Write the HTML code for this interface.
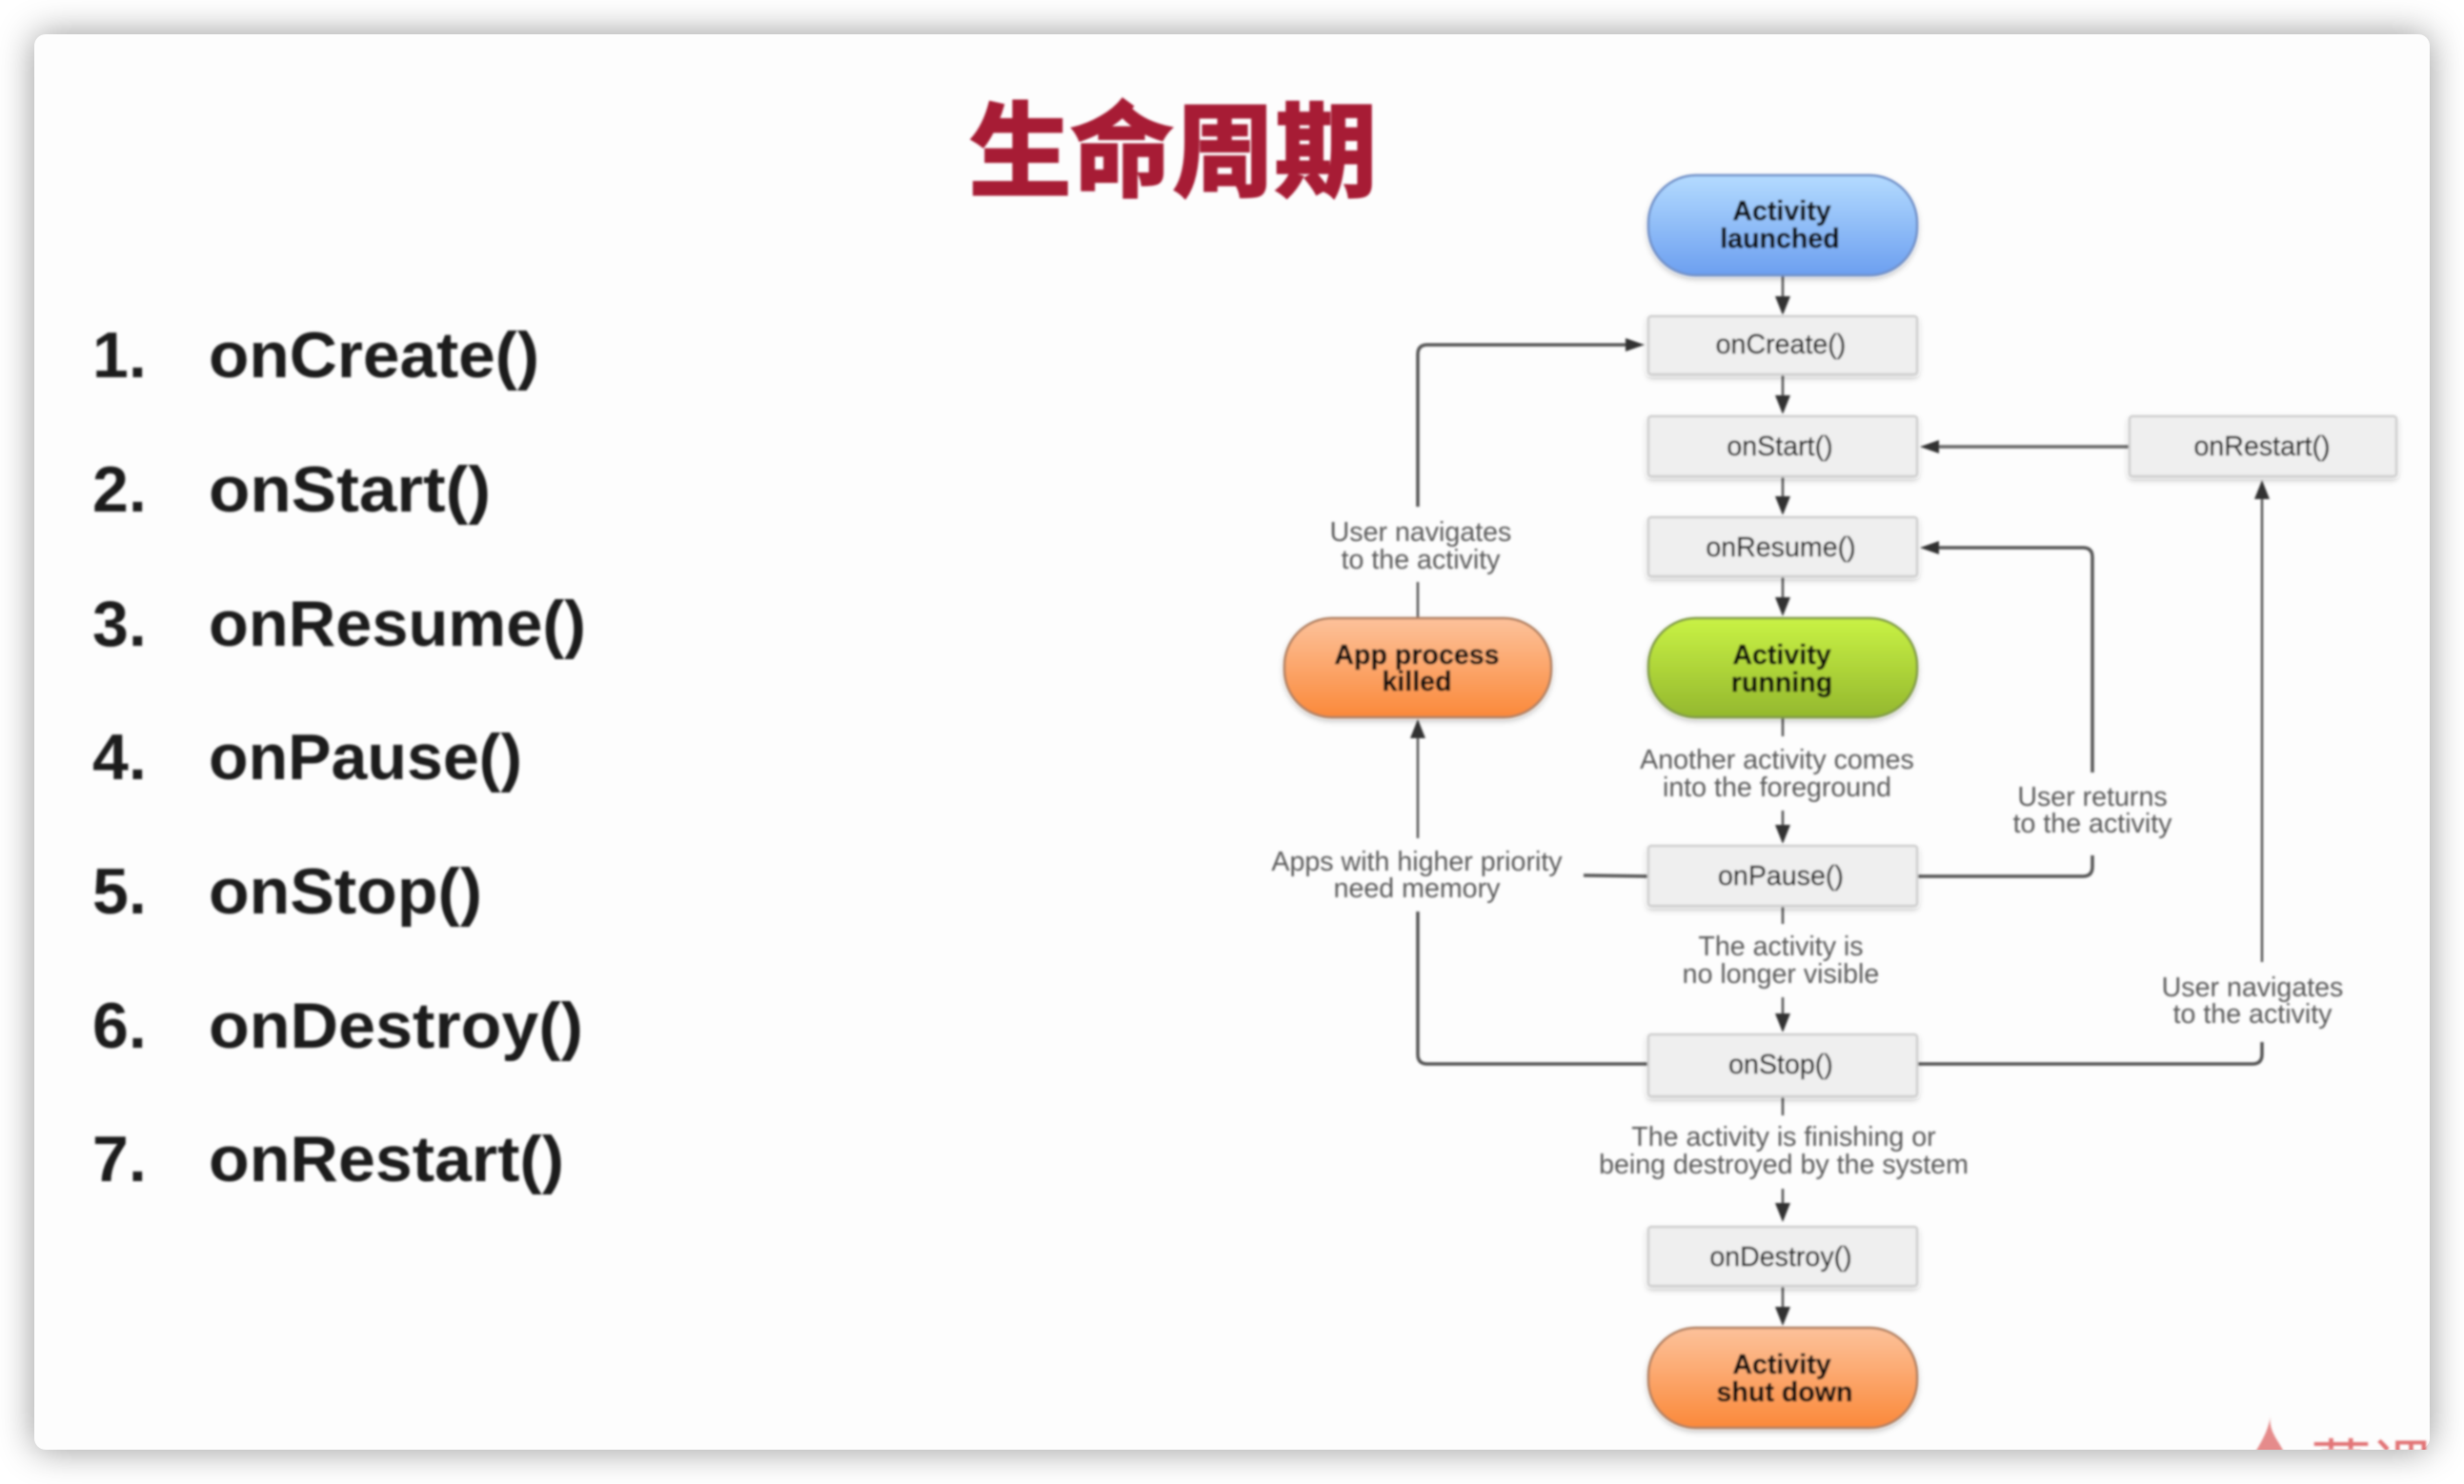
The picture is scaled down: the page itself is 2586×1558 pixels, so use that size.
<!DOCTYPE html>
<html><head><meta charset="utf-8"><style>
html,body{margin:0;padding:0;width:2586px;height:1558px;background:#fff;overflow:hidden}
#card{position:absolute;left:36px;top:36px;width:2514px;height:1486px;background:#fdfdfd;border-radius:12px;box-shadow:0 0 38px rgba(0,0,0,.42)}
svg{position:absolute;left:0;top:0}
.L{font-family:"Liberation Sans",sans-serif;font-weight:700;font-size:68px;fill:#1c1c1c}
.n{font-family:"Liberation Sans",sans-serif;font-size:28.6px;fill:#222;text-anchor:middle;stroke:#222;stroke-width:.4px}
.b{font-family:"Liberation Sans",sans-serif;font-weight:700;font-size:28.6px;fill:#111;text-anchor:middle;stroke:#111;stroke-width:.4px}
.g{font-family:"Liberation Sans",sans-serif;font-size:28.6px;fill:#5a5a5a;text-anchor:middle}
</style></head><body>
<div id="card"></div>
<svg width="2586" height="1558" viewBox="0 0 2586 1558" xmlns="http://www.w3.org/2000/svg">
<defs>
<linearGradient id="bl" x1="0" y1="0" x2="0" y2="1"><stop offset="0" stop-color="#b4dbff"/><stop offset="1" stop-color="#6c9ff0"/></linearGradient>
<linearGradient id="gr" x1="0" y1="0" x2="0" y2="1"><stop offset="0" stop-color="#c9f245"/><stop offset="1" stop-color="#94b82e"/></linearGradient>
<linearGradient id="or" x1="0" y1="0" x2="0" y2="1"><stop offset="0" stop-color="#fdc29b"/><stop offset="1" stop-color="#fb893a"/></linearGradient>
<filter id="s" filterUnits="userSpaceOnUse" x="0" y="0" width="2586" height="1558"><feDropShadow dx="0" dy="3" stdDeviation="3" flood-color="#000" flood-opacity=".22"/></filter>
<filter id="f" filterUnits="userSpaceOnUse" x="0" y="0" width="2586" height="1558"><feGaussianBlur stdDeviation="1"/></filter>
<clipPath id="c"><rect x="36" y="36" width="2514" height="1486"/></clipPath>
</defs>

<!-- watermark -->
<g clip-path="url(#c)" filter="url(#f)">
<path d="M2383 1486 C2380 1505 2395 1515 2399 1530 L2364 1530 C2372 1515 2380 1505 2383 1486Z" fill="#e58b8b"/>
<text x="2425" y="1564" font-family="'Noto Sans CJK SC',sans-serif" font-size="64" fill="#d9474a" opacity=".75">慕课</text>
</g>

<!-- title -->
<text x="1017" y="197" font-family="'Liberation Sans','Noto Sans CJK SC',sans-serif" font-weight="700" font-size="107" fill="#a71c35" stroke="#a71c35" stroke-width="3" textLength="428" filter="url(#f)">生命周期</text>

<!-- list -->
<g filter="url(#f)">
<text class="L" x="97" y="396">1.</text><text class="L" x="219" y="396" textLength="347" lengthAdjust="spacingAndGlyphs">onCreate()</text>
<text class="L" x="97" y="537">2.</text><text class="L" x="219" y="537" textLength="296" lengthAdjust="spacingAndGlyphs">onStart()</text>
<text class="L" x="97" y="678">3.</text><text class="L" x="219" y="678" textLength="396" lengthAdjust="spacingAndGlyphs">onResume()</text>
<text class="L" x="97" y="818">4.</text><text class="L" x="219" y="818" textLength="329" lengthAdjust="spacingAndGlyphs">onPause()</text>
<text class="L" x="97" y="959">5.</text><text class="L" x="219" y="959" textLength="287" lengthAdjust="spacingAndGlyphs">onStop()</text>
<text class="L" x="97" y="1100">6.</text><text class="L" x="219" y="1100" textLength="393" lengthAdjust="spacingAndGlyphs">onDestroy()</text>
<text class="L" x="97" y="1240">7.</text><text class="L" x="219" y="1240" textLength="373" lengthAdjust="spacingAndGlyphs">onRestart()</text>
</g>

<g filter="url(#f)">
<!-- connectors -->
<g fill="none" stroke="#555" stroke-width="2.5">
<path d="M1871 288V322M1871 393V428M1871 500V534M1871 605V640M1871 753V773M1871 851V878M1871 951V970M1871 1047V1076M1871 1151V1171M1871 1248V1275M1871 1350V1385"/>
<path d="M1488 532V372Q1488 362 1498 362H1710" stroke-width="3.5"/>
<path d="M1488 611V649"/>
<path d="M2235 469H2030" stroke-width="3.5" stroke="#666"/>
<path d="M2012 920H2186Q2196 920 2196 910V898" stroke-width="3.5"/>
<path d="M2196 811V585Q2196 575 2186 575H2030" stroke-width="3.5"/>
<path d="M1729 920L1662 919" stroke-width="3.5"/>
<path d="M1488 770V880"/>
<path d="M1488 957V1107Q1488 1117 1498 1117H1730" stroke-width="3.5"/>
<path d="M2012 1117H2364Q2374 1117 2374 1107V1094" stroke-width="3.5"/>
<path d="M2374 1010V520"/>
</g>
<!-- arrowheads -->
<g fill="#333">
<polygon points="1871,331 1863,311 1879,311"/>
<polygon points="1871,435 1863,415 1879,415"/>
<polygon points="1871,541 1863,521 1879,521"/>
<polygon points="1871,647 1863,627 1879,627"/>
<polygon points="1871,886 1863,866 1879,866"/>
<polygon points="1871,1084 1863,1064 1879,1064"/>
<polygon points="1871,1283 1863,1263 1879,1263"/>
<polygon points="1871,1392 1863,1372 1879,1372"/>
<polygon points="1726,362 1706,355 1706,369"/>
<polygon points="2015,469 2035,462 2035,476"/>
<polygon points="2015,575 2035,568 2035,582"/>
<polygon points="1488,755 1480,775 1496,775"/>
<polygon points="2374,504 2366,524 2382,524"/>
</g>

<!-- pills -->
<g stroke-width="2.5" filter="url(#s)">
<rect x="1730" y="184" width="282" height="105" rx="50" fill="url(#bl)" stroke="#6f8fc8"/>
<rect x="1730" y="649" width="282" height="104" rx="50" fill="url(#gr)" stroke="#7f9a45"/>
<rect x="1348" y="649" width="280" height="104" rx="50" fill="url(#or)" stroke="#b07f60"/>
<rect x="1730" y="1394" width="282" height="105" rx="50" fill="url(#or)" stroke="#b07f60"/>
</g>
<!-- process boxes -->
<g fill="#efefef" stroke="#cfcfcf" stroke-width="2.5" filter="url(#s)">
<rect x="1730" y="332" width="282" height="61" rx="3"/>
<rect x="1730" y="437" width="282" height="63" rx="3"/>
<rect x="1730" y="543" width="282" height="62" rx="3"/>
<rect x="2235" y="437" width="280" height="63" rx="3"/>
<rect x="1730" y="888" width="282" height="63" rx="3"/>
<rect x="1730" y="1086" width="282" height="65" rx="3"/>
<rect x="1730" y="1288" width="282" height="62" rx="3"/>
</g>

<!-- node text -->
<text class="b" x="1870" y="231">Activity</text><text class="b" x="1868" y="260">launched</text>
<text class="b" x="1870" y="697">Activity</text><text class="b" x="1870" y="726">running</text>
<text class="b" x="1487" y="697">App process</text><text class="b" x="1487" y="725">killed</text>
<text class="b" x="1870" y="1442">Activity</text><text class="b" x="1873" y="1471">shut down</text>
<text class="n" x="1869" y="371">onCreate()</text>
<text class="n" x="1868" y="478">onStart()</text>
<text class="n" x="1869" y="584">onResume()</text>
<text class="n" x="2374" y="478">onRestart()</text>
<text class="n" x="1869" y="929">onPause()</text>
<text class="n" x="1869" y="1127">onStop()</text>
<text class="n" x="1869" y="1329">onDestroy()</text>

<!-- edge labels -->
<text class="g" x="1491" y="568">User navigates</text><text class="g" x="1491" y="597">to the activity</text>
<text class="g" x="1865" y="807">Another activity comes</text><text class="g" x="1865" y="836">into the foreground</text>
<text class="g" x="2196" y="846">User returns</text><text class="g" x="2196" y="874">to the activity</text>
<text class="g" x="1487" y="914">Apps with higher priority</text><text class="g" x="1487" y="942">need memory</text>
<text class="g" x="1869" y="1003">The activity is</text><text class="g" x="1869" y="1032">no longer visible</text>
<text class="g" x="2364" y="1046">User navigates</text><text class="g" x="2364" y="1074">to the activity</text>
<text class="g" x="1872" y="1203">The activity is finishing or</text><text class="g" x="1872" y="1232">being destroyed by the system</text>
</g>
</svg>
</body></html>
